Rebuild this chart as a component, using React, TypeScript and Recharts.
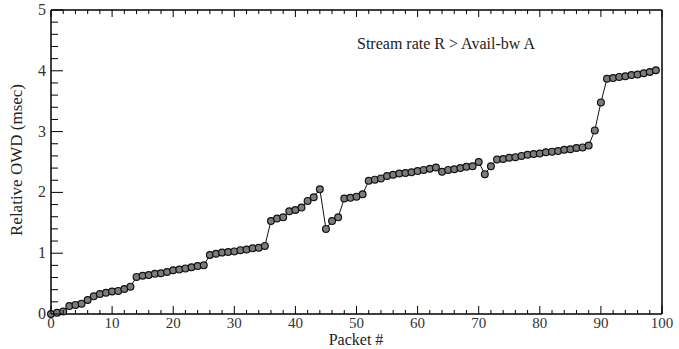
import { LineChart, Line, XAxis, YAxis } from "recharts";

// packet index
const packets = [
  0, 1, 2, 3, 4, 5, 6, 7, 8, 9, 10, 11, 12, 13, 14, 15, 16, 17, 18, 19,
  20, 21, 22, 23, 24, 25, 26, 27, 28, 29, 30, 31, 32, 33, 34, 35, 36, 37, 38, 39,
  40, 41, 42, 43, 44, 45, 46, 47, 48, 49, 50, 51, 52, 53, 54, 55, 56, 57, 58, 59,
  60, 61, 62, 63, 64, 65, 66, 67, 68, 69, 70, 71, 72, 73, 74, 75, 76, 77, 78, 79,
  80, 81, 82, 83, 84, 85, 86, 87, 88, 89, 90, 91, 92, 93, 94, 95, 96, 97, 98, 99,
];

// relative one-way delay, msec
const owd = [
  0, 0.02, 0.04, 0.13, 0.15, 0.17, 0.23, 0.29, 0.33, 0.35,
  0.37, 0.38, 0.41, 0.45, 0.61, 0.63, 0.64, 0.66, 0.67, 0.69,
  0.72, 0.73, 0.75, 0.77, 0.79, 0.8, 0.97, 0.99, 1.01, 1.02,
  1.03, 1.05, 1.06, 1.08, 1.09, 1.12, 1.53, 1.57, 1.59, 1.69,
  1.71, 1.75, 1.86, 1.92, 2.05, 1.4, 1.53, 1.59, 1.9, 1.91,
  1.93, 1.97, 2.19, 2.21, 2.23, 2.27, 2.29, 2.31, 2.32, 2.33,
  2.35, 2.37, 2.39, 2.41, 2.34, 2.37, 2.38, 2.4, 2.42, 2.43,
  2.5, 2.3, 2.43, 2.54, 2.55, 2.57, 2.58, 2.6, 2.62, 2.63,
  2.64, 2.66, 2.67, 2.68, 2.7, 2.71, 2.73, 2.74, 2.77, 3.02,
  3.48, 3.87, 3.88, 3.9, 3.91, 3.93, 3.94, 3.96, 3.98, 4.01,
];

const xTicks = [
  0, 2, 4, 6, 8, 10, 12, 14, 16, 18, 20, 22, 24, 26, 28, 30, 32, 34, 36, 38, 40,
  42, 44, 46, 48, 50, 52, 54, 56, 58, 60, 62, 64, 66, 68, 70, 72, 74, 76, 78, 80,
  82, 84, 86, 88, 90, 92, 94, 96, 98, 100,
];
const yTicks = [
  0, 0.2, 0.4, 0.6, 0.8, 1, 1.2, 1.4, 1.6, 1.8, 2, 2.2, 2.4, 2.6, 2.8, 3,
  3.2, 3.4, 3.6, 3.8, 4, 4.2, 4.4, 4.6, 4.8, 5,
];

const data = packets.map((p, i) => ({ packet: p, owd: owd[i] }));

const FONT = "'Liberation Serif', 'Times New Roman', serif";
const labelStyle = { fontFamily: FONT, fontSize: 15 };
const isMajorY = (v: number) => Math.abs(v - Math.round(v)) < 1e-6;

function BottomTick({ x, y, payload }: any) {
  const major = payload.value % 10 === 0;
  return (
    <g>
      <line x1={x} y1={y} x2={x} y2={y - (major ? 8 : 4)} stroke="#000" />
      {major && (
        <text x={x} y={y + 14} textAnchor="middle" style={labelStyle} fill="#333">
          {payload.value}
        </text>
      )}
    </g>
  );
}

function TopTick({ x, y, payload }: any) {
  const major = payload.value % 10 === 0;
  return <line x1={x} y1={y} x2={x} y2={y + (major ? 7 : 4)} stroke="#000" />;
}

function LeftTick({ x, y, payload }: any) {
  const major = isMajorY(payload.value);
  return (
    <g>
      <line x1={x} y1={y} x2={x + (major ? 12 : 7)} y2={y} stroke="#000" />
      {major && (
        <text x={x - 5} y={y + 5} textAnchor="end" style={{ fontFamily: FONT, fontSize: 16 }} fill="#333">
          {Math.round(payload.value)}
        </text>
      )}
    </g>
  );
}

function RightTick({ x, y, payload }: any) {
  const major = isMajorY(payload.value);
  return <line x1={x} y1={y} x2={x - (major ? 11 : 7)} y2={y} stroke="#000" />;
}

function Dot({ cx, cy }: any) {
  return <circle cx={cx} cy={cy} r={3.4} fill="#7c7c7c" stroke="#111" strokeWidth={1.2} />;
}

export default function App() {
  return (
    <div style={{ position: "absolute", left: 0, top: 0, width: 679, height: 349, background: "#fff" }}>
      <LineChart
        width={679}
        height={349}
        data={data}
        margin={{ top: 9, right: 16, bottom: 34, left: 50 }}
      >
        <XAxis
          dataKey="packet"
          type="number"
          domain={[0, 100]}
          ticks={xTicks}
          interval={0}
          height={1}
          tickSize={0}
          tickMargin={0}
          tick={<BottomTick />}
          axisLine={{ stroke: "#000", strokeWidth: 1.5 }}
        />
        <XAxis
          xAxisId="top"
          orientation="top"
          dataKey="packet"
          type="number"
          domain={[0, 100]}
          ticks={xTicks}
          interval={0}
          height={1}
          tickSize={0}
          tickMargin={0}
          tick={<TopTick />}
          axisLine={{ stroke: "#000", strokeWidth: 1.5 }}
        />
        <YAxis
          type="number"
          domain={[0, 5]}
          ticks={yTicks}
          interval={0}
          width={1}
          tickSize={0}
          tickMargin={0}
          tick={<LeftTick />}
          axisLine={{ stroke: "#000", strokeWidth: 1.5 }}
        />
        <YAxis
          yAxisId="right"
          orientation="right"
          type="number"
          domain={[0, 5]}
          ticks={yTicks}
          interval={0}
          width={1}
          tickSize={0}
          tickMargin={0}
          tick={<RightTick />}
          axisLine={{ stroke: "#000", strokeWidth: 1.5 }}
        />
        <Line
          dataKey="owd"
          stroke="#111"
          strokeWidth={1}
          dot={<Dot />}
          activeDot={false}
          isAnimationActive={false}
        />
      </LineChart>
      <div
        style={{
          position: "absolute",
          left: 357,
          top: 35,
          fontFamily: FONT,
          fontSize: 16,
          color: "#222",
          whiteSpace: "nowrap",
        }}
      >
        Stream rate R &gt; Avail-bw A
      </div>
      <div
        style={{
          position: "absolute",
          left: 0,
          width: 712,
          top: 331,
          lineHeight: "17px",
          textAlign: "center",
          fontFamily: FONT,
          fontSize: 16,
          color: "#222",
        }}
      >
        Packet #
      </div>
      <div
        style={{
          position: "absolute",
          left: 17,
          top: 160,
          transform: "translate(-50%, -50%) rotate(-90deg)",
          fontFamily: FONT,
          fontSize: 17,
          color: "#222",
          whiteSpace: "nowrap",
        }}
      >
        Relative OWD (msec)
      </div>
    </div>
  );
}
